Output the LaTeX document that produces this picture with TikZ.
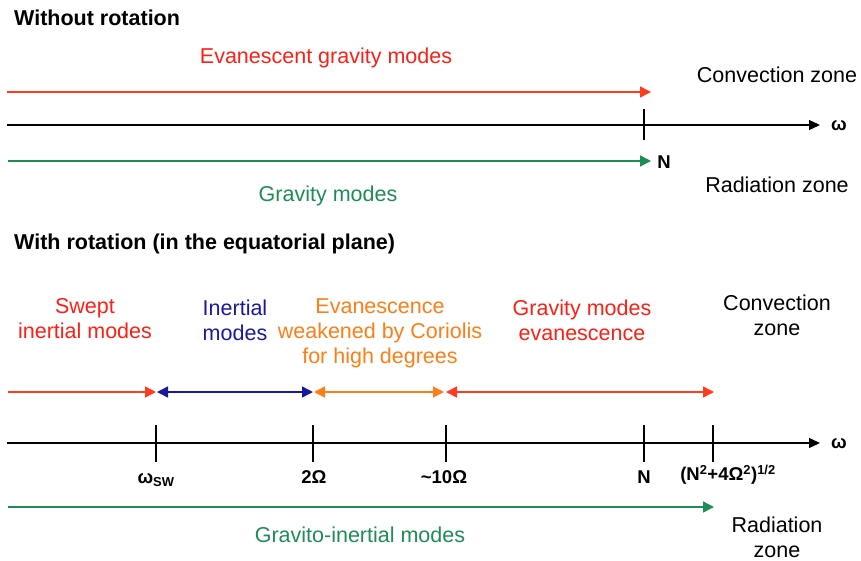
\documentclass[tikz,border=0pt]{standalone}
\usepackage{fontspec}
\setmainfont{Liberation Sans}
\usetikzlibrary{arrows.meta}

\definecolor{modered}{RGB}{255,30,20}
\definecolor{arrowred}{RGB}{255,60,30}
\definecolor{modegreen}{RGB}{30,140,85}
\definecolor{modeblue}{RGB}{25,25,160}
\definecolor{modeorange}{RGB}{255,125,20}

\begin{document}
\begin{tikzpicture}[
    x=1pt, y=-1pt,
    % Stílusok a sávokhoz és a tengelyekhez
    band/.style={line width=1.5pt, -{Triangle[length=11pt,width=11pt]}},
    dband/.style={line width=1.5pt, {Triangle[length=11pt,width=11pt]}-{Triangle[length=11pt,width=11pt]}},
    axis/.style={line width=1.3pt, -{Triangle[length=11pt,width=10pt]}},
    tick/.style={line width=1.3pt},
    lbl/.style={font=\fontsize{21.5}{25}\selectfont, align=center, inner sep=0pt},
    val/.style={font=\fontsize{18.5}{21}\selectfont\bfseries, inner sep=0pt},
    title/.style={font=\fontsize{21.5}{25}\selectfont\bfseries, anchor=west, inner sep=0pt}
]
    \useasboundingbox (0,0) rectangle (861,560);

    % Forgás nélkül
    \node[title] (t1) at (14,18) {Without rotation};

    \coordinate (A1) at (7,125);
    \coordinate (A1end) at (820,125);
    \coordinate (N1) at (644,125);
    \draw[axis] (A1) -- (A1end);
    \draw[tick] ([yshift=-15pt]N1) -- ([yshift=16pt]N1);
    \node[val] (w1) at (839,126) {ω};

    \coordinate (R1a) at (7,92);
    \coordinate (R1b) at (651,92);
    \draw[band, arrowred] (R1a) -- (R1b);
    \coordinate (G1a) at (8,161);
    \coordinate (G1b) at (651,161);
    \draw[band, modegreen] (G1a) -- (G1b);
    \node[val] (n1) at (664,162) {N};

    \node[lbl, modered] (evan) at (326,58) {Evanescent gravity modes};
    \node[lbl, modegreen] (grav) at (328,196) {Gravity modes};
    \node[lbl] (conv1) at (777,75) {Convection zone};
    \node[lbl] (rad1) at (777,185) {Radiation zone};

    % Forgással (egyenlítői síkban)
    \node[title] (t2) at (14,244) {With rotation (in the equatorial plane)};

    \coordinate (A2) at (7,443);
    \coordinate (A2end) at (820,443);
    \draw[axis] (A2) -- (A2end);
    \coordinate (Wsw) at (156,443);
    \coordinate (TwoO) at (313,443);
    \coordinate (TenO) at (446,443);
    \coordinate (N2) at (644,443);
    \coordinate (Ncrit) at (713,443);
    \foreach \p in {Wsw,TwoO,TenO,N2,Ncrit}
        \draw[tick] ([yshift=-19pt]\p) -- ([yshift=18pt]\p);
    \node[val] (w2) at (839,444) {ω};

    \node[val] (lsw) at (156,480) {ω\textsubscript{SW}};
    \node[val] (l2) at (314,477) {2Ω};
    \node[val] (l10) at (444,477) {\char`~10Ω};
    \node[val] (lN) at (644,477) {N};
    \node[val] (lcrit) at (728,475) {(N\textsuperscript{2}+4Ω\textsuperscript{2})\textsuperscript{1/2}};

    % Sávok nyilakkal
    \draw[band, arrowred] (8,392) -- (156,392);
    \draw[dband, modeblue] (157,392) -- (313,392);
    \draw[dband, modeorange] (314,392) -- (444,392);
    \draw[dband, arrowred] (446,392) -- (714,392);
    \draw[band, modegreen] (8,507) -- (714,507);

    \node[lbl, modered] (swept) at (85,319) {Swept\\inertial modes};
    \node[lbl, modeblue] (inert) at (235,320) {Inertial\\modes};
    \node[lbl, modeorange] (weak) at (380,333) {Evanescence\\weakened by Coriolis\\for high degrees};
    \node[lbl, modered] (gevan) at (582,320) {Gravity modes\\evanescence};
    \node[lbl] (conv2) at (777,315) {Convection\\zone};
    \node[lbl, modegreen] (gi) at (360,535) {Gravito-inertial modes};
    \node[lbl] (rad2) at (777,537) {Radiation\\zone};
\end{tikzpicture}
\end{document}
